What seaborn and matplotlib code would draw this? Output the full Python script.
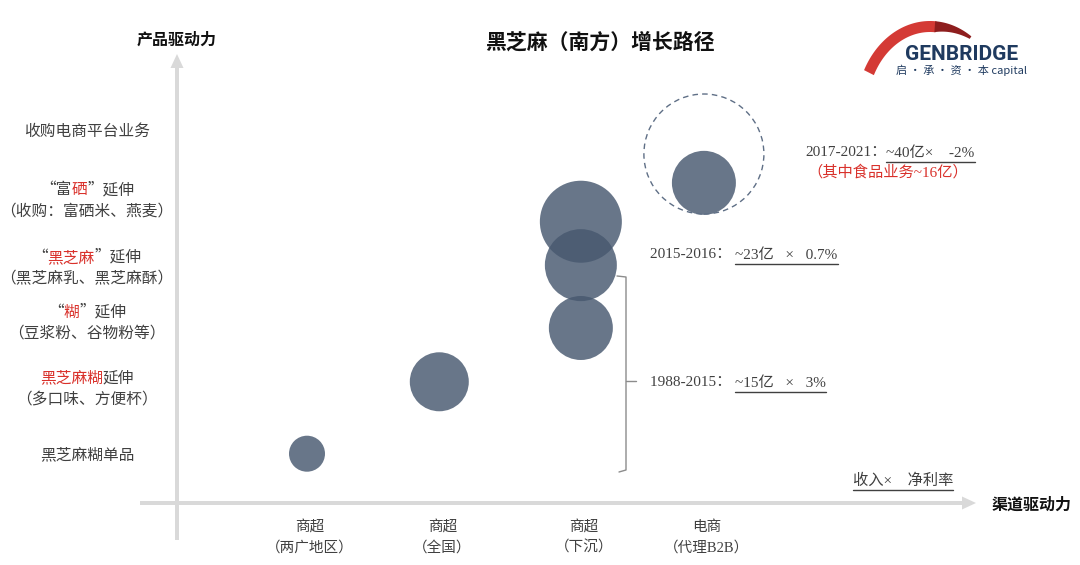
import numpy as np
import pandas as pd
import seaborn as sns
import matplotlib.pyplot as plt
from matplotlib.patches import FancyArrow, Polygon

# ---- data -------------------------------------------------------------
channel_labels = ['商超\n（两广地区）', '商超\n（全国）', '商超\n（下沉）', '电商\n（代理B2B）']
channel_pos = [0, 1, 2.07, 3.0]

# product levels: list of rich segments per line -> (text, is_red)
product_labels = [
    [[('黑芝麻糊单品', False)]],
    [[('黑芝麻糊', True), ('延伸', False)], [('（多口味、方便杯）', False)]],
    [[('“', False), ('糊', True), ('”延伸', False)], [('（豆浆粉、谷物粉等）', False)]],
    [[('“', False), ('黑芝麻', True), ('”延伸', False)], [('（黑芝麻乳、黑芝麻酥）', False)]],
    [[('“富', False), ('硒', True), ('”延伸', False)], [('（收购：富硒米、燕麦）', False)]],
    [[('收购电商平台业务', False)]],
]
product_pos = [0, 1.03, 2.04, 2.89, 3.93, 5]

# bubbles (growth stages)
bubble_channel = [0, 1, 2.07, 2.07, 2.07, 3.0]
bubble_level = [0.02, 1.13, 1.96, 2.93, 3.60, 4.20]
bubble_value = [18, 29.5, 32, 36, 41, 32]

target_channel = [3.0]
target_level = [4.645]
target_value = [60]

# ---- figure -----------------------------------------------------------
sns.set_theme(style='white')
plt.rcParams['font.family'] = ['Noto Sans CJK SC', 'DejaVu Sans']
SERIF = ['Liberation Serif', 'Noto Sans CJK SC']

W, H = 1080, 565
fig = plt.figure(figsize=(W / 100, H / 100), dpi=100)

ax = fig.add_axes([0, 0, 1, 1])
ax.set_xlim((0 - 307) / 132.3, (W - 307) / 132.3)
ax.set_ylim((455 - H) / 64.8, 455 / 64.8)
ax.axis('off')

ov = fig.add_axes([0, 0, 1, 1])
ov.set_xlim(0, W)
ov.set_ylim(H, 0)
ov.axis('off')
ov.patch.set_alpha(0)


def to_px(x, y):
    dx, dy = ax.transData.transform((x, y))
    return dx, H - dy


# bubbles
px_per_unit = 1.44  # radius px -> marker diameter pt
df = pd.DataFrame({'channel': bubble_channel, 'level': bubble_level,
                   'area': [(px_per_unit * v) ** 2 for v in bubble_value]})
amin, amax = df['area'].min(), df['area'].max()
sns.scatterplot(data=df, x='channel', y='level', size='area', sizes=(amin, amax),
                size_norm=(amin, amax), color='#47586f', alpha=0.82, linewidth=0,
                legend=False, ax=ax)
ax.scatter(target_channel, target_level, s=[(px_per_unit * v) ** 2 for v in target_value],
           facecolors='none', edgecolors='#5f6f86', linewidths=1.0, linestyles=(0, (4, 3)))
ax.axis('off')

# axes arrows
grey = '#d9d9d9'
ov.add_patch(FancyArrow(177, 540, 0, -486, width=4, head_width=13, head_length=14,
                        length_includes_head=True, color=grey, lw=0))
ov.add_patch(FancyArrow(140, 503, 836, 0, width=4, head_width=13, head_length=14,
                        length_includes_head=True, color=grey, lw=0))

fig.canvas.draw()
renderer = fig.canvas.get_renderer()

RED = '#d9312b'
TXT = '#404040'


def rich(x, y, parts, size, ha='center', weight='normal', underline=None,
         color=TXT, family=None):
    """parts: list of (text, red?) ; underline: set of part indices to underline"""
    underline = underline or set()
    objs, widths = [], []
    for t, red in parts:
        o = ov.text(0, y, t, fontsize=size, color=RED if red else color,
                    ha='left', va='center', weight=weight, family=family)
        widths.append(o.get_window_extent(renderer).width)
        objs.append(o)
    total = sum(widths)
    cur = x - total / 2 if ha == 'center' else x
    for i, (o, w) in enumerate(zip(objs, widths)):
        o.set_x(cur)
        if i in underline:
            ov.plot([cur, cur + w], [y + size * 0.8, y + size * 0.8], color=color, lw=1)
        cur += w
    return cur


# title and axis names
rich(600, 42, [('黑芝麻（南方）增长路径', False)], 15, weight='bold', color='#111111')
rich(177, 40, [('产品驱动力', False)], 11.5, weight='bold', color='#111111')
rich(992, 505, [('渠道驱动力', False)], 11.5, ha='left', weight='bold', color='#111111')
rich(853, 481, [('收入×    净利率', False)], 11, ha='left', underline={0}, family=SERIF)

# product level labels
for lines, lvl in zip(product_labels, product_pos):
    _, yc = to_px(0, lvl)
    n = len(lines)
    for k, segs in enumerate(lines):
        rich(87, yc + (k - (n - 1) / 2) * 21, segs, 11.3)

# channel labels
for lab, pos in zip(channel_labels, channel_pos):
    xc, _ = to_px(pos, 0)
    for k, line in enumerate(lab.split('\n')):
        rich(xc + 3, 527 + k * 21, [(line, False)], 10.5, family=SERIF)

# annotations
rich(805, 153, [('2017-2021：', False), ('~40亿×    -2%', False)], 11, ha='left',
     underline={1}, family=SERIF)
rich(807, 172, [('（其中食品业务~16亿）', True)], 11, ha='left', family=SERIF)
rich(650, 255, [('2015-2016： ', False), ('~23亿   ×   0.7%', False)], 11, ha='left',
     underline={1}, family=SERIF)
rich(650, 383, [('1988-2015： ', False), ('~15亿   ×   3%', False)], 11, ha='left',
     underline={1}, family=SERIF)

# bracket
bc = '#8c8c8c'
ov.plot([617, 626, 626, 619], [276, 277, 470, 472], color=bc, lw=1)
ov.plot([626, 636], [381, 381], color=bc, lw=1)

# logo
cx, cy, rx, ry, w = 930, 111, 74, 90, 11
t = np.radians(np.linspace(153, 85, 60))
outer = np.c_[cx + rx * np.cos(t), cy - ry * np.sin(t)]
inner = np.c_[cx + (rx - w) * np.cos(t), cy - (ry - w) * np.sin(t)][::-1]
ov.add_patch(Polygon(np.vstack([outer, inner]), closed=True, color='#d43a35', lw=0))
t2 = np.radians(np.linspace(86, 56, 30))
w2 = np.linspace(11, 3, 30)
outer2 = np.c_[cx + rx * np.cos(t2), cy - ry * np.sin(t2)]
inner2 = np.c_[cx + (rx - w2) * np.cos(t2), cy - (ry - w2) * np.sin(t2)][::-1]
ov.add_patch(Polygon(np.vstack([outer2, inner2]), closed=True, color='#8e1e1e', lw=0))
ov.text(962, 54, 'GENBRIDGE', fontsize=15, weight='bold', color='#1f3a5f',
        ha='center', va='center', family=['Roboto', 'DejaVu Sans'])
ov.text(962, 70, '启 · 承 · 资 · 本 capital', fontsize=8, color='#1f3a5f',
        ha='center', va='center')

fig.savefig('out.png', dpi=100)
